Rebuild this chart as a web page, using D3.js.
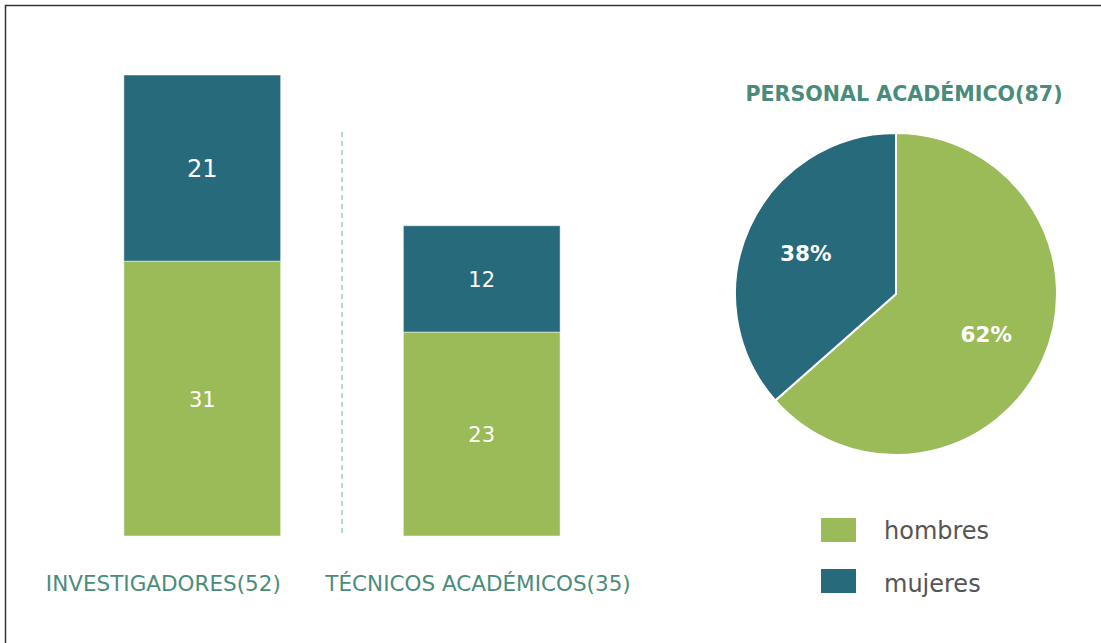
<!DOCTYPE html>
<html>
<head>
<meta charset="utf-8">
<script src="https://cdn.jsdelivr.net/npm/d3@7"></script>
<style>
  body { margin: 0; background: #fff; }
  svg { display: block; font-family: "DejaVu Sans", Verdana, sans-serif; }
</style>
</head>
<body>
<svg id="chart" width="1101" height="643"></svg>
<script>
'use strict'

// data
const categories = ['INVESTIGADORES', 'TÉCNICOS ACADÉMICOS']
const hombres = [31, 23]
const mujeres = [21, 12]
const series = ['hombres', 'mujeres']
const pieTitle = 'PERSONAL ACADÉMICO'
// slice sizes as drawn in the picture (angles), and the printed labels
const pieShares = [63.5, 36.5]
const pieLabels = ['62%', '38%']

const colors = { hombres: '#9bbb59', mujeres: '#276a7b' }
const titleColor = '#4a8c7b'

const totals = categories.map((c, i) => hombres[i] + mujeres[i])
const grandTotal = d3.sum(totals)

const svg = d3.select('#chart')

// frame (only top and left edges fall inside the window)
svg.append('rect')
  .attr('x', 5.5).attr('y', 5.5)
  .attr('width', 1200).attr('height', 800)
  .attr('fill', 'none')
  .attr('stroke', '#333')
  .attr('stroke-width', 1.5)

// bar chart
const x = d3.scaleBand()
  .domain(categories)
  .range([54, 630])
  .paddingInner(0.439)
  .paddingOuter(0.25)

const y = d3.scaleLinear()
  .domain([0, d3.max(totals)])
  .range([536, 75])

const stacked = categories.map((c, i) => {
  return [
    { cat: c, key: 'hombres', y0: 0, y1: hombres[i], value: hombres[i] },
    { cat: c, key: 'mujeres', y0: hombres[i], y1: hombres[i] + mujeres[i], value: mujeres[i] }
  ]
}).flat()

const bars = svg.append('g').attr('class', 'bars')

bars.selectAll('rect')
  .data(stacked)
  .enter().append('rect')
    .attr('x', d => x(d.cat))
    .attr('y', d => y(d.y1))
    .attr('width', x.bandwidth())
    .attr('height', d => y(d.y0) - y(d.y1))
    .attr('fill', d => colors[d.key])
    .attr('stroke', 'rgba(255,255,255,0.5)')
    .attr('stroke-width', 1)

bars.selectAll('text')
  .data(stacked)
  .enter().append('text')
    .attr('x', d => x(d.cat) + x.bandwidth() / 2)
    .attr('y', d => (y(d.y0) + y(d.y1)) / 2 + 1)
    .attr('text-anchor', 'middle')
    .attr('dominant-baseline', 'central')
    .attr('fill', '#fff')
    .style('font-size', d => d.value === d3.max(mujeres) ? '24px' : '21px')
    .text(d => d.value)

// dashed divider between the two bars
const midX = (x(categories[0]) + x.bandwidth() + x(categories[1])) / 2
svg.append('line')
  .attr('x1', midX).attr('x2', midX)
  .attr('y1', 132).attr('y2', y(0))
  .attr('stroke', '#93c4b6')
  .attr('stroke-width', 1.3)
  .attr('stroke-dasharray', '5,4')

// category labels
svg.append('g').selectAll('text')
  .data(categories)
  .enter().append('text')
    .attr('x', d => x(d) - 78)
    .attr('y', 591)
    .attr('fill', titleColor)
    .style('font-size', '21.5px')
    .text((d, i) => d + '(' + totals[i] + ')')

// pie
const cx = 896, cy = 294, radius = 161

const pie = d3.pie().sort(null)
const arc = d3.arc().innerRadius(0).outerRadius(radius)
const labelArc = d3.arc().innerRadius(99).outerRadius(99)

const pieG = svg.append('g').attr('transform', 'translate(' + cx + ',' + cy + ')')

pieG.selectAll('path')
  .data(pie(pieShares))
  .enter().append('path')
    .attr('d', arc)
    .attr('fill', (d, i) => colors[series[i]])
    .attr('stroke', '#fff')
    .attr('stroke-width', 2)

pieG.selectAll('text')
  .data(pie(pieShares))
  .enter().append('text')
    .attr('transform', d => 'translate(' + labelArc.centroid(d) + ')')
    .attr('text-anchor', 'middle')
    .attr('dominant-baseline', 'central')
    .attr('fill', '#fff')
    .style('font-size', '21.5px')
    .style('font-weight', 'bold')
    .text((d, i) => pieLabels[i])

svg.append('text')
  .attr('x', 904)
  .attr('y', 101)
  .attr('text-anchor', 'middle')
  .attr('fill', titleColor)
  .style('font-size', '20.6px')
  .style('font-weight', 'bold')
  .text(pieTitle + '(' + grandTotal + ')')

// legend
const legend = svg.append('g').selectAll('g')
  .data(series)
  .enter().append('g')
    .attr('transform', (d, i) => 'translate(821,' + (518 + i * 51) + ')')

legend.append('rect')
  .attr('width', 35)
  .attr('height', 24)
  .attr('fill', d => colors[d])

legend.append('text')
  .attr('x', 63)
  .attr('y', (d, i) => 21 + i * 2)
  .attr('fill', '#555')
  .style('font-size', '24px')
  .text(d => d)
</script>
</body>
</html>
